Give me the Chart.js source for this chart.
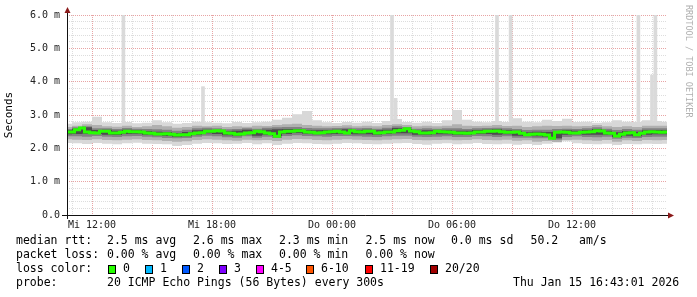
<!DOCTYPE html>
<html>
<head>
<meta charset="utf-8">
<title>Smokeping – last 30 hours</title>
<script src="https://cdn.jsdelivr.net/npm/chart.js@4.4.1/dist/chart.umd.min.js"></script>
<style>
  html,body{margin:0;padding:0;background:#fff;}
  #wrap{width:697px;height:297px;position:relative;}
</style>
</head>
<body>
<div id="wrap"><canvas id="c" width="697" height="297"></canvas></div>
<script>
// Smokeping-Graph (rrdtool Look) mit Chart.js. x = Stunden ab Mi 00:00
var T0 = 10.75, T1 = 40.75;
var MED_STEP = 0.25, BAND_STEP = 0.5;

// Median RTT (ms), alle 15 min
var MEDIAN = [
  2.49,2.49,2.56,2.61,2.49,2.47,2.46,2.51,2.51,2.46,
  2.46,2.48,2.51,2.50,2.50,2.49,2.46,2.45,2.43,2.43,
  2.44,2.42,2.40,2.41,2.41,2.44,2.46,2.47,2.51,2.51,
  2.53,2.52,2.46,2.45,2.42,2.43,2.46,2.47,2.51,2.50,
  2.46,2.44,2.36,2.49,2.51,2.51,2.53,2.53,2.49,2.48,
  2.46,2.47,2.49,2.50,2.51,2.49,2.46,2.53,2.50,2.49,
  2.51,2.51,2.46,2.47,2.49,2.49,2.53,2.54,2.59,2.52,
  2.50,2.46,2.46,2.47,2.51,2.50,2.49,2.48,2.46,2.46,
  2.45,2.46,2.49,2.49,2.51,2.51,2.52,2.50,2.48,2.48,
  2.49,2.45,2.41,2.42,2.43,2.42,2.40,2.30,2.48,2.49,
  2.48,2.46,2.46,2.48,2.49,2.50,2.53,2.52,2.46,2.45,
  2.37,2.42,2.46,2.47,2.41,2.45,2.49,2.50,2.49,2.48,
  2.49
];

// Smoke-Baender (ms), alle 30 min, aussen -> innen
var HI1 = [2.74,2.78,2.80,2.95,2.78,2.76,2.79,2.75,2.77,2.84, 2.78,2.74,2.76,2.80,2.78,2.77,2.75,2.79,2.76,2.78,
           2.80,2.86,2.92,3.02,3.12,2.84,2.78,2.76,2.79,2.77, 2.80,2.76,2.82,2.88,2.79,2.77,2.80,2.76,2.84,3.15,
           2.86,2.80,2.78,2.82,2.79,2.90,2.80,2.78,2.86,2.82, 2.89,2.79,2.80,2.77,2.78,2.84,2.80,2.79,2.84,2.82,2.80];
var LO1 = [2.16,2.15,2.13,2.16,2.14,2.12,2.15,2.17,2.14,2.13, 2.12,2.07,2.10,2.14,2.16,2.15,2.13,2.14,2.16,2.12,
           2.15,2.10,2.14,2.16,2.15,2.13,2.12,2.14,2.16,2.15, 2.13,2.12,2.14,2.15,2.16,2.13,2.11,2.14,2.15,2.12,
           2.14,2.16,2.13,2.12,2.14,2.11,2.13,2.10,2.14,2.20, 2.21,2.15,2.13,2.12,2.14,2.10,2.13,2.12,2.14,2.13,2.14];
var HI2 = [2.64,2.68,2.72,2.70,2.66,2.65,2.68,2.64,2.66,2.70, 2.66,2.62,2.64,2.68,2.66,2.68,2.64,2.66,2.65,2.68,
           2.67,2.70,2.72,2.74,2.70,2.68,2.66,2.67,2.69,2.66, 2.68,2.66,2.70,2.72,2.70,2.66,2.68,2.66,2.68,2.72,
           2.68,2.67,2.68,2.70,2.67,2.68,2.64,2.66,2.68,2.67, 2.68,2.66,2.67,2.70,2.66,2.64,2.66,2.64,2.68,2.68,2.68];
var LO2 = [2.27,2.26,2.25,2.27,2.25,2.24,2.26,2.27,2.25,2.24, 2.22,2.20,2.21,2.25,2.27,2.26,2.24,2.23,2.26,2.24,
           2.25,2.22,2.26,2.28,2.27,2.25,2.24,2.26,2.27,2.26, 2.25,2.24,2.26,2.27,2.28,2.25,2.24,2.25,2.26,2.24,
           2.25,2.27,2.25,2.24,2.26,2.23,2.24,2.20,2.22,2.18, 2.25,2.26,2.24,2.23,2.25,2.20,2.24,2.22,2.25,2.24,2.25];
var HI3 = [2.58,2.63,2.66,2.60,2.60,2.58,2.61,2.59,2.58,2.57, 2.56,2.53,2.56,2.60,2.62,2.60,2.57,2.58,2.60,2.59,
           2.62,2.63,2.64,2.64,2.61,2.60,2.60,2.61,2.62,2.60, 2.61,2.59,2.62,2.66,2.64,2.59,2.60,2.59,2.60,2.60,
           2.58,2.60,2.61,2.62,2.60,2.58,2.55,2.56,2.56,2.58, 2.59,2.58,2.60,2.63,2.59,2.55,2.58,2.56,2.60,2.60,2.60];
var LO3 = [2.36,2.36,2.35,2.37,2.35,2.34,2.36,2.37,2.35,2.33, 2.31,2.30,2.31,2.35,2.38,2.36,2.33,2.32,2.36,2.32,
           2.35,2.31,2.37,2.39,2.37,2.36,2.35,2.37,2.37,2.36, 2.35,2.34,2.36,2.38,2.38,2.35,2.34,2.35,2.36,2.34,
           2.34,2.37,2.36,2.34,2.36,2.32,2.32,2.30,2.30,2.26, 2.34,2.36,2.34,2.33,2.35,2.29,2.32,2.31,2.34,2.35,2.35];
var HI4 = [2.54,2.59,2.63,2.55,2.56,2.53,2.56,2.54,2.52,2.50, 2.49,2.46,2.49,2.54,2.56,2.55,2.51,2.53,2.56,2.53,
           2.56,2.57,2.58,2.58,2.55,2.54,2.55,2.56,2.57,2.55, 2.56,2.54,2.56,2.61,2.58,2.53,2.54,2.54,2.54,2.53,
           2.53,2.55,2.56,2.57,2.54,2.53,2.48,2.50,2.49,2.50, 2.54,2.53,2.55,2.58,2.53,2.48,2.52,2.50,2.54,2.55,2.54];
var LO4 = [2.42,2.43,2.44,2.43,2.41,2.40,2.43,2.44,2.41,2.39, 2.37,2.35,2.36,2.41,2.45,2.43,2.39,2.38,2.42,2.38,
           2.41,2.37,2.43,2.46,2.44,2.42,2.42,2.43,2.43,2.42, 2.42,2.41,2.43,2.45,2.45,2.41,2.41,2.42,2.42,2.41,
           2.40,2.43,2.43,2.41,2.42,2.38,2.37,2.36,2.35,2.30, 2.41,2.42,2.41,2.41,2.41,2.34,2.38,2.36,2.41,2.42,2.42];

// einzelne Ausreisser (max ping)
var SPIKE_T   = [13.57, 17.55, 27.00, 27.18, 32.25, 32.93, 39.32, 40.00, 40.17];
var SPIKE_LO  = [2.75, 2.75, 2.75, 2.75, 2.75, 2.75, 2.75, 2.75, 2.75];
var SPIKE_TOP = [6.0, 3.85, 6.0, 3.5, 6.0, 6.0, 6.0, 4.2, 6.0];

// Achsen
var X_LABEL_HOURS = [12, 18, 24, 30, 36];
var X_LABELS = ["Mi 12:00", "Mi 18:00", "Do 00:00", "Do 06:00", "Do 12:00"];
var Y_LABEL_VALUES = [0, 1, 2, 3, 4, 5, 6];
var Y_LABELS = ["0.0", "1.0 m", "2.0 m", "3.0 m", "4.0 m", "5.0 m", "6.0 m"];

// Legende
var LOSS_LABELS = ["0", "1", "2", "3", "4-5", "6-10", "11-19", "20/20"];
var LOSS_COLORS = ["#26ff00", "#00b8ff", "#0059ff", "#7e00ff", "#ff00ff", "#ff5500", "#ff0000", "#a10000"];
var RTT_ROW  = ["median rtt:", "2.5 ms avg", "2.6 ms max", "2.3 ms min", "2.5 ms now", "0.0 ms sd", "50.2", "am/s"];
var LOSS_ROW = ["packet loss:", "0.00 % avg", "0.00 % max", "0.00 % min", "0.00 % now"];
var PROBE_ROW = ["probe:", "20 ICMP Echo Pings (56 Bytes) every 300s"];
var STAMP = "Thu Jan 15 16:43:01 2026";
var WATERMARK = "RRDTOOL / TOBI OETIKER";

var MONO = "'DejaVu Sans Mono', monospace";
var GRID_MINOR = "#dddddd", GRID_MAJOR = "#e8a4a4", ARROW = "#8b1a1a";

function pts(arr, step){ return arr.map(function(v,i){ return {x: T0 + i*step, y: v}; }); }

function band(lo, hi, color, ord){
  return [
    {data: pts(lo, BAND_STEP), borderWidth: 0, pointRadius: 0, fill: false, stepped: "middle", order: ord},
    {data: pts(hi, BAND_STEP), borderWidth: 0, pointRadius: 0, fill: "-1", stepped: "middle", backgroundColor: color, order: ord}
  ];
}

var datasets = [].concat(
  band(LO1, HI1, "#d8d8d8", 5),
  band(LO2, HI2, "#b0b0b0", 4),
  band(LO3, HI3, "#828282", 3),
  band(LO4, HI4, "#4c4c4c", 2),
  [{
    data: pts(MEDIAN, MED_STEP), borderColor: LOSS_COLORS[0], borderWidth: 3,
    pointRadius: 0, fill: false, stepped: "middle", order: 1
  },{
    type: "bar",
    data: SPIKE_T.map(function(t,i){ return {x: t, y: [SPIKE_LO[i], SPIKE_TOP[i]]}; }),
    backgroundColor: "#dadada", borderWidth: 0, barThickness: 3, order: 6
  }]
);

var deco = {
  id: "deco",
  beforeDraw: function(ch){
    var c = ch.ctx; c.save(); c.fillStyle = "#fff"; c.fillRect(0, 0, ch.width, ch.height); c.restore();
  },
  afterDraw: function(ch){
    var c = ch.ctx, a = ch.chartArea;
    c.save();
    // Achslinien + Pfeile
    c.strokeStyle = "#111"; c.lineWidth = 1;
    c.beginPath(); c.moveTo(a.left - 5, a.bottom + 0.5); c.lineTo(a.right + 2, a.bottom + 0.5); c.stroke();
    c.beginPath(); c.moveTo(a.left + 0.5, a.bottom + 4); c.lineTo(a.left + 0.5, a.top - 3); c.stroke();
    c.fillStyle = ARROW;
    c.beginPath(); c.moveTo(a.right + 1, a.bottom - 2.5); c.lineTo(a.right + 7, a.bottom + 0.5); c.lineTo(a.right + 1, a.bottom + 3.5); c.closePath(); c.fill();
    c.beginPath(); c.moveTo(a.left - 2.5, a.top - 2); c.lineTo(a.left + 0.5, a.top - 8); c.lineTo(a.left + 3.5, a.top - 2); c.closePath(); c.fill();

    // Wasserzeichen
    c.fillStyle = "#b0b0b0"; c.font = "8.5px " + MONO; c.textBaseline = "middle"; c.textAlign = "left";
    c.translate(688, 5); c.rotate(Math.PI/2); c.fillText(WATERMARK, 0, 0);
    c.setTransform(1, 0, 0, 1, 0, 0);

    // Legende
    c.fillStyle = "#000"; c.font = "11.5px " + MONO; c.textBaseline = "middle";
    var cols = [16, 107, 193, 279, 365.5, 451, 530.5, 579];
    RTT_ROW.forEach(function(s,i){ c.fillText(s, cols[i], 241.5); });
    LOSS_ROW.forEach(function(s,i){ c.fillText(s, cols[i], 255.5); });
    c.fillText("loss color:", 16, 269.5);
    var sq = [108, 145, 182, 219, 256, 306, 365, 430];
    LOSS_LABELS.forEach(function(s,i){
      c.fillStyle = LOSS_COLORS[i]; c.fillRect(sq[i], 265, 8, 9);
      c.strokeStyle = "#000"; c.strokeRect(sq[i] + 0.5, 265.5, 7, 8);
      c.fillStyle = "#000"; c.fillText(s, sq[i] + 15, 269.5);
    });
    c.fillText(PROBE_ROW[0], 16, 283);
    c.fillText(PROBE_ROW[1], 107, 283);
    c.fillText(STAMP, 513, 283);
    c.restore();
  }
};

Chart.defaults.font.family = MONO;
new Chart(document.getElementById("c"), {
  type: "line",
  data: {datasets: datasets},
  options: {
    responsive: false, animation: false, devicePixelRatio: 1,
    layout: {padding: {top: 15, right: 30, left: 0, bottom: 0}},
    plugins: {legend: {display: false}, tooltip: {enabled: false}},
    scales: {
      x: {
        type: "linear", min: T0, max: T1, offset: false,
        afterBuildTicks: function(s){ var t = []; for (var h = 11; h <= 40; h++) t.push({value: h}); s.ticks = t; },
        afterFit: function(s){ s.height = 82; },
        grid: {offset: false, drawTicks: false, lineWidth: 1,
               color: function(c){ return c.tick && c.tick.value % 3 === 0 ? GRID_MAJOR : GRID_MINOR; }},
        border: {display: false, dash: [1, 1]},
        ticks: {autoSkip: false, maxRotation: 0, padding: 4, color: "#222", font: {size: 10},
                callback: function(v){ var k = X_LABEL_HOURS.indexOf(v); return k < 0 ? "" : X_LABELS[k]; }}
      },
      y: {
        min: 0, max: 6,
        afterBuildTicks: function(s){ var t = []; for (var k = 0; k <= 30; k++) t.push({value: k/5}); s.ticks = t; },
        afterFit: function(s){ s.width = 67; },
        grid: {drawTicks: false, lineWidth: 1,
               color: function(c){ return c.tick && Math.abs(c.tick.value - Math.round(c.tick.value)) < 1e-9 ? GRID_MAJOR : GRID_MINOR; }},
        border: {display: false, dash: [1, 1]},
        title: {display: true, text: "Seconds", color: "#000", font: {size: 11}, padding: {top: 3, bottom: 0}},
        ticks: {autoSkip: false, padding: 7, color: "#222", font: {size: 10},
                callback: function(v){ var k = Y_LABEL_VALUES.indexOf(v); return k < 0 ? "" : Y_LABELS[k]; }}
      }
    }
  },
  plugins: [deco]
});
</script>
</body>
</html>
